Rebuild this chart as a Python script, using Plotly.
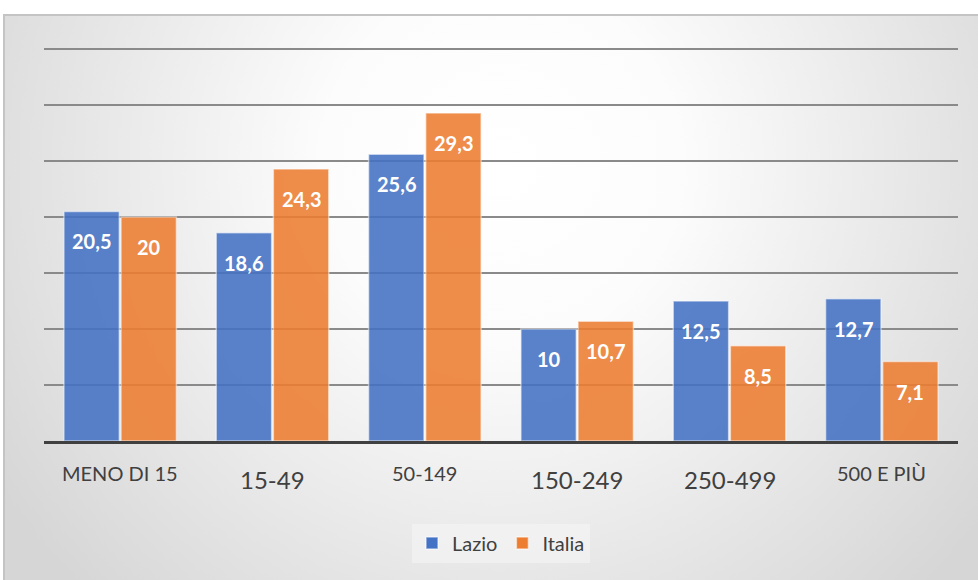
import base64
import plotly.graph_objects as go

# ---- data ----
categories = ["MENO DI 15", "15-49", "50-149", "150-249", "250-499", "500 E PIÙ"]
lazio = [20.5, 18.6, 25.6, 10, 12.5, 12.7]
italia = [20, 24.3, 29.3, 10.7, 8.5, 7.1]
series_names = ["Lazio", "Italia"]

# ---- styles ----
W, H = 978, 580
ML, MR, MT, MB = 44, 20, 48, 139
BLUE = "#4472C4"
ORANGE = "#ED7D31"
TXT = "#404040"
FONT = "Lato, 'Open Sans', sans-serif"
big_label = {"15-49", "150-249", "250-499"}


def fmt(v):
    s = f"{v:g}"
    return s.replace(".", ",")


fig = go.Figure()
for name, vals, col in [(series_names[0], lazio, BLUE), (series_names[1], italia, ORANGE)]:
    fig.add_trace(go.Bar(
        x=categories, y=vals, name=name,
        marker=dict(color=col, opacity=0.88,
                    line=dict(color="rgba(255,255,255,0.55)", width=1.5)),
        offsetgroup=name,
    ))

# data labels inside near the top of each bar
pw = W - ML - MR
cat_px = pw / len(categories)
bar_off = cat_px * 0.75 / 4  # center offset of each bar in px
for i, c in enumerate(categories):
    for vals, sign in [(lazio, -1), (italia, 1)]:
        fig.add_annotation(
            x=c, y=vals[i], xref="x", yref="y", text=fmt(vals[i]),
            showarrow=False, xshift=sign * bar_off, yshift=-30,
            font=dict(family=FONT, size=20, color="white", weight="bold"),
            yanchor="middle",
        )
    big = c in big_label
    fig.add_annotation(
        x=c, y=0, xref="x", yref="paper", text=c, showarrow=False,
        yanchor="middle", yshift=-38 if big else -32,
        font=dict(family=FONT, size=24 if big else 20, color=TXT),
    )

# background gradient + border as an svg image
ph = H - MT - MB
svg = f'''<svg xmlns="http://www.w3.org/2000/svg" width="{W}" height="{H - 14}" viewBox="0 0 {W} {H - 14}">
<defs><radialGradient id="g" gradientUnits="userSpaceOnUse" cx="500" cy="150" r="600">
<stop offset="0" stop-color="#ffffff"/><stop offset="0.3" stop-color="#fcfcfc"/>
<stop offset="1" stop-color="#d6d6d6"/></radialGradient></defs>
<rect x="0" y="0" width="{W}" height="{H - 14}" fill="url(#g)"/>
<line x1="0" y1="1" x2="{W}" y2="1" stroke="#c4c4c4" stroke-width="2"/>
<line x1="1" y1="0" x2="1" y2="{H}" stroke="#c4c4c4" stroke-width="2"/>
</svg>'''
src = "data:image/svg+xml;base64," + base64.b64encode(svg.encode()).decode()
fig.add_layout_image(
    source=src, xref="paper", yref="paper",
    x=(3 - ML) / pw, y=1 + (MT - 14) / ph,
    sizex=(W - 3) / pw, sizey=(H - 14) / ph,
    xanchor="left", yanchor="top", sizing="stretch", layer="below",
)

fig.update_layout(
    width=W, height=H,
    margin=dict(l=ML, r=MR, t=MT, b=MB),
    paper_bgcolor="white", plot_bgcolor="rgba(0,0,0,0)",
    barmode="group", bargap=0.25, bargroupgap=0.03,
    font=dict(family=FONT, color=TXT),
    showlegend=True,
    legend=dict(orientation="h", x=0.5, xanchor="center", y=(441 - 543) / ph,
                yanchor="middle", bgcolor="rgba(245,245,245,0.55)",
                font=dict(size=20, color=TXT), itemwidth=30,
                entrywidth=0, tracegroupgap=0),
    xaxis=dict(showticklabels=False, showline=True, linecolor="#404040",
               linewidth=3, ticks="", showgrid=False),
    yaxis=dict(range=[0, 35.1], dtick=5, showticklabels=False, showgrid=True,
               gridcolor="#8a8a8a", gridwidth=1.5, zeroline=False, ticks=""),
)

fig.write_html("out.html")
